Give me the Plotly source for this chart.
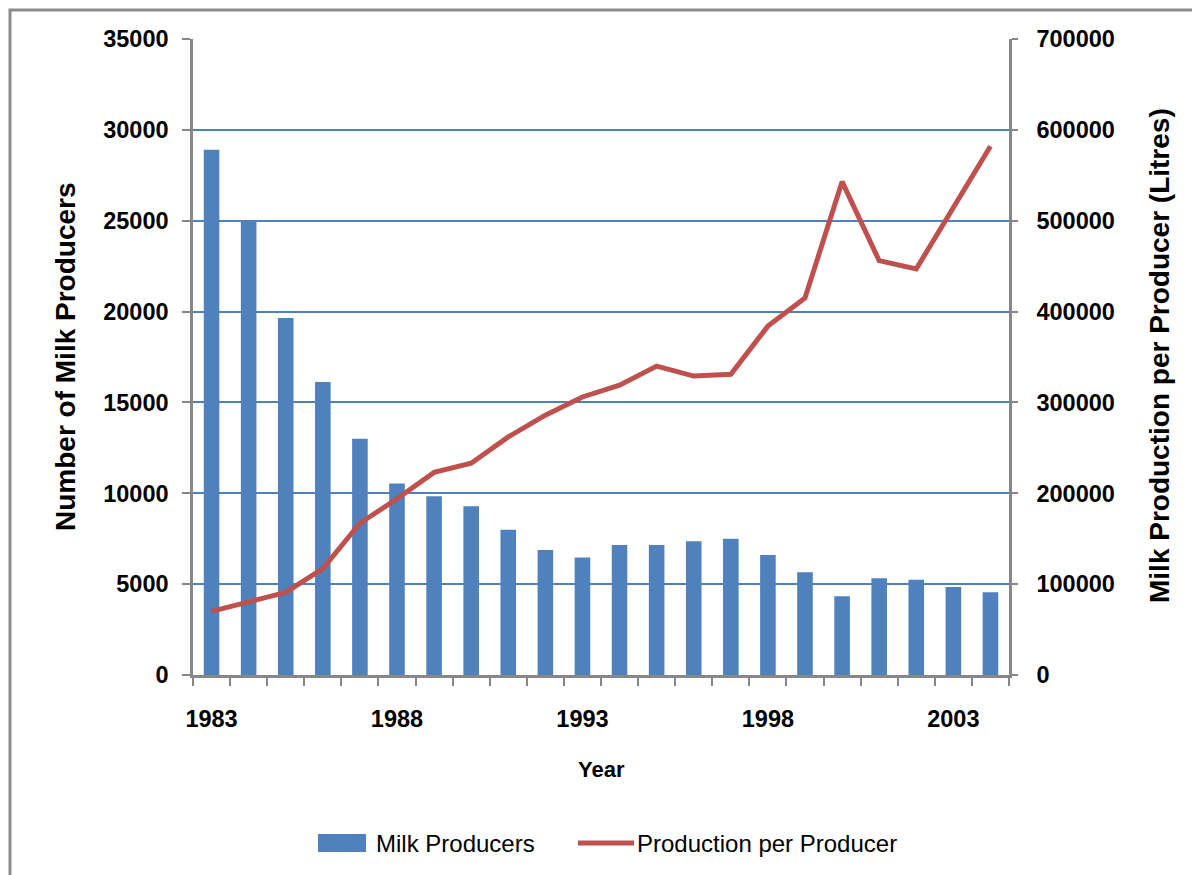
import plotly.graph_objects as go

years = list(range(1983, 2005))
milk_producers = [28900, 24950, 19650, 16120, 13000, 10540, 9840, 9280, 8000, 6880, 6460,
                  7160, 7160, 7360, 7500, 6600, 5660, 4340, 5320, 5240, 4840, 4560]
production_per_producer = [70000, 81000, 91000, 117000, 167000, 194000, 223000, 233000,
                           262000, 286000, 306000, 319000, 340000, 329000, 331000, 384000,
                           415000, 543000, 456000, 447000, 514000, 582000]
x_tick_labels = [1983, 1988, 1993, 1998, 2003]
left_ticks = [0, 5000, 10000, 15000, 20000, 25000, 30000, 35000]
right_ticks = [0, 100000, 200000, 300000, 400000, 500000, 600000, 700000]
series_names = ["Milk Producers", "Production per Producer"]

BLUE = "#4F81BD"
RED = "#C0504D"
GRAY = "#878787"
FONT = "Liberation Sans"

OFF = 8  # page body margin
W, H = 1200 - OFF, 875 - OFF
# plot area in screen pixels
L, R, T, B = 193, 1009, 39, 675
pw, ph = R - L, B - T

def px(x):
    return (x - L) / pw

def py(y):
    return (B - y) / ph

fig = go.Figure()
fig.add_trace(go.Bar(x=years, y=milk_producers, name=series_names[0],
                     marker=dict(color=BLUE, line=dict(width=0)), width=0.42, yaxis="y",
                     showlegend=False))
fig.add_trace(go.Scatter(x=years, y=production_per_producer, name=series_names[1],
                         mode="lines", line=dict(color=RED, width=5), yaxis="y2",
                         showlegend=False))

tickfont = dict(family=FONT, size=23.5, weight="bold", color="black")

fig.update_layout(
    width=W, height=H,
    margin=dict(l=L - OFF, r=W - (R - OFF), t=T - OFF, b=H - (B - OFF), pad=0),
    paper_bgcolor="white", plot_bgcolor="white",
    font=dict(family=FONT, color="black"),
    showlegend=False,
    xaxis=dict(range=[1982.5, 2004.5], tickmode="array", tickvals=x_tick_labels,
               ticktext=[str(v) for v in x_tick_labels], ticks="", ticklen=0,
               showline=True, linecolor=GRAY, linewidth=2.5, showgrid=False, zeroline=False,
               tickfont=tickfont, ticklabelstandoff=21,
               minor=dict(tickvals=[y - 0.5 for y in years] + [2004.5], ticks="outside",
                          ticklen=8, tickwidth=2, tickcolor=GRAY, showgrid=False)),
    yaxis=dict(range=[0, 35000], tickmode="array", tickvals=left_ticks,
               ticktext=[str(v) for v in left_ticks],
               ticks="outside", ticklen=8, tickwidth=2, tickcolor=GRAY,
               showline=True, linecolor=GRAY, linewidth=2.5,
               showgrid=True, gridcolor=BLUE, gridwidth=1.5, zeroline=False,
               tickfont=tickfont, ticklabelstandoff=9),
    yaxis2=dict(range=[0, 700000], tickmode="array", tickvals=right_ticks,
                ticktext=[str(v) for v in right_ticks],
                overlaying="y", side="right",
                ticks="outside", ticklen=6, tickwidth=2, tickcolor=GRAY,
                showline=True, linecolor=GRAY, linewidth=2.5,
                showgrid=False, zeroline=False,
                tickfont=tickfont, ticklabelstandoff=14),
    annotations=[
        dict(text="Number of Milk Producers", xref="paper", yref="paper",
             x=px(65), y=py(357), xanchor="center", yanchor="middle", textangle=-90,
             showarrow=False, font=dict(family=FONT, size=28, weight="bold", color="black")),
        dict(text="Milk Production per Producer (Litres)", xref="paper", yref="paper",
             x=px(1160), y=py(356), xanchor="center", yanchor="middle", textangle=-90,
             showarrow=False, font=dict(family=FONT, size=28, weight="bold", color="black")),
        dict(text="Year", xref="paper", yref="paper",
             x=px(601), y=py(769), xanchor="center", yanchor="middle",
             showarrow=False, font=dict(family=FONT, size=22, weight="bold", color="black")),
        dict(text=series_names[0], xref="paper", yref="paper",
             x=px(374), y=py(843), xanchor="left", yanchor="middle",
             showarrow=False, font=dict(family=FONT, size=24, color="black")),
        dict(text=series_names[1], xref="paper", yref="paper",
             x=px(635), y=py(843), xanchor="left", yanchor="middle",
             showarrow=False, font=dict(family=FONT, size=24, color="black")),
    ],
    shapes=[
        dict(type="rect", xref="paper", yref="paper",
             x0=px(10), x1=px(1215), y0=py(10), y1=py(900),
             line=dict(color="#8C8C8C", width=3), fillcolor="rgba(0,0,0,0)", layer="below"),
        dict(type="rect", xref="paper", yref="paper",
             x0=px(318), x1=px(366), y0=py(834), y1=py(852),
             line=dict(width=0), fillcolor=BLUE),
        dict(type="line", xref="paper", yref="paper",
             x0=px(578), x1=px(634), y0=py(843), y1=py(843),
             line=dict(color=RED, width=5)),
    ],
)

fig.write_html("out.html")
